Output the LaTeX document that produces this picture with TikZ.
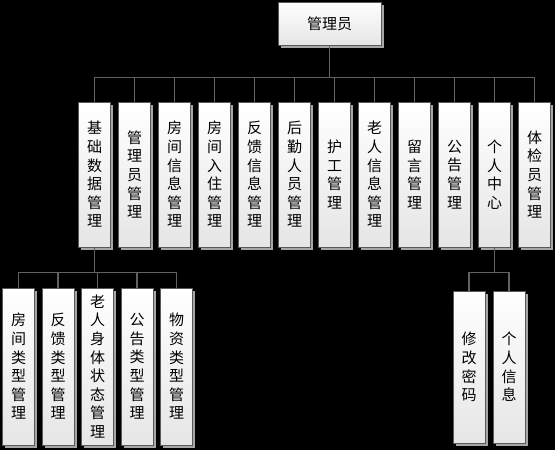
\documentclass[tikz,border=0pt]{standalone}
\usepackage{fontspec}
\setmainfont{Noto Sans CJK SC}
\usetikzlibrary{positioning,shadows}

\begin{document}
\begin{tikzpicture}[x=1pt,y=-1pt]
\tikzstyle{box}=[rectangle, draw=black!65, line width=1pt, top color=white, bottom color=black!10, inner sep=0pt, align=center, font=\fontsize{15}{18.6}\selectfont, drop shadow={shadow xshift=2.5pt, shadow yshift=-2.5pt, fill=black!35, opacity=1}]
\tikzstyle{col}=[box, minimum width=32pt, node distance=7pt]
\tikzstyle{connect}=[draw=black!62, line width=1.6pt]
\fill[black] (0,0) rectangle (555,450);
\node[box, minimum width=103pt, minimum height=43pt] (admin) at (329.5,23.5) {管理员};
% second row
\node[col, minimum height=145pt] (jcsj) at (94.5,174.5) {基\\础\\数\\据\\管\\理};
\node[col, minimum height=145pt] (glygl) [right=of jcsj] {管\\理\\员\\管\\理};
\node[col, minimum height=145pt] (fjxx) [right=of glygl] {房\\间\\信\\息\\管\\理};
\node[col, minimum height=145pt] (fjrz) [right=of fjxx] {房\\间\\入\\住\\管\\理};
\node[col, minimum height=145pt] (fkxx) [right=of fjrz] {反\\馈\\信\\息\\管\\理};
\node[col, minimum height=145pt] (hqry) [right=of fkxx] {后\\勤\\人\\员\\管\\理};
\node[col, minimum height=145pt] (hg) [right=of hqry] {护\\工\\管\\理};
\node[col, minimum height=145pt] (lrxx) [right=of hg] {老\\人\\信\\息\\管\\理};
\node[col, minimum height=145pt] (ly) [right=of lrxx] {留\\言\\管\\理};
\node[col, minimum height=145pt] (gg) [right=of ly] {公\\告\\管\\理};
\node[col, minimum height=145pt] (grzx) [right=of gg] {个\\人\\中\\心};
\node[col, minimum height=145pt] (tjy) [right=of grzx] {体\\检\\员\\管\\理};
% third row, left
\node[col, minimum height=157pt, node distance=6.5pt] (fjlx) at (18.5,366.5) {房\\间\\类\\型\\管\\理};
\node[col, minimum height=157pt, node distance=6.5pt] (fklx) [right=of fjlx] {反\\馈\\类\\型\\管\\理};
\node[col, minimum height=157pt, node distance=6.5pt] (srzt) [right=of fklx] {老\\人\\身\\体\\状\\态\\管\\理};
\node[col, minimum height=157pt, node distance=6.5pt] (gglx) [right=of srzt] {公\\告\\类\\型\\管\\理};
\node[col, minimum height=157pt, node distance=6.5pt] (wzlx) [right=of gglx] {物\\资\\类\\型\\管\\理};
% third row, right
\node[col, minimum height=152pt] (xgmm) at (469,367) {修\\改\\密\\码};
\node[col, minimum height=152pt] (grxx) [right=of xgmm] {个\\人\\信\\息};
\foreach \c in {jcsj,glygl,fjxx,fjrz,fkxx,hqry,hg,lrxx,ly,gg,grzx,tjy}
  \path[connect] (admin.south) -- ++(0,32) -| (\c.north);
\foreach \c in {fjlx,fklx,srzt,gglx,wzlx}
  \path[connect] (jcsj.south) -- ++(0,25) -| (\c.north);
\foreach \c in {xgmm,grxx}
  \path[connect] (grzx.south) -- ++(0,25) -| (\c.north);
\end{tikzpicture}
\end{document}
